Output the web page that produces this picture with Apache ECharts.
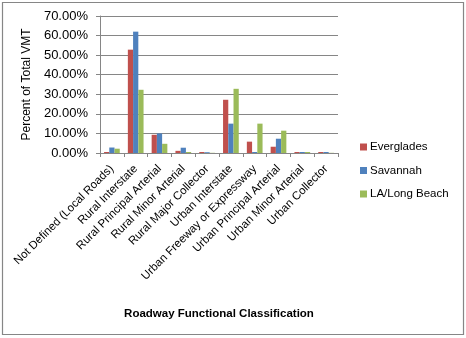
<!DOCTYPE html>
<html><head><meta charset="utf-8">
<script src="https://cdn.jsdelivr.net/npm/echarts@6/dist/echarts.min.js"></script>
<style>html,body{margin:0;padding:0;background:#fff}#c{width:466px;height:338px}</style>
</head><body><div id="c"></div>
<script>
const categories = ["Not Defined (Local Roads)","Rural Interstate","Rural Principal Arterial","Rural Minor Arterial","Rural Major Collector","Urban Interstate","Urban Freeway or Expressway","Urban Principal Arterial","Urban Minor Arterial","Urban Collector"];
const everglades = [0.5, 52.8, 9.3, 1.1, 0.5, 27.2, 5.8, 3.2, 0.5, 0.5];
const savannah   = [2.8, 62.0, 10.0, 2.7, 0.4, 15.0, 0.5, 7.3, 0.5, 0.5];
const laLongBeach= [2.2, 32.3, 4.7, 0.5, 0.1, 32.8, 15.0, 11.4, 0.5, 0.1];
const yTicks = [0,10,20,30,40,50,60,70];
const FONT = "'Liberation Sans', Arial, sans-serif";
const chart = echarts.init(document.getElementById('c'), null, {renderer:'canvas'});
const gray = '#868686';
function s(name, data, color){
  return {name, type:'bar', data, barGap:'0%', barCategoryGap:'34%', itemStyle:{color}, animation:false};
}
chart.setOption({
  animation:false,
  textStyle:{fontFamily:FONT},
  graphic:[{type:'rect', shape:{x:2.5,y:2.5,width:461,height:332}, style:{fill:'none', stroke:gray, lineWidth:1.2}, silent:true}],
  grid:{left:100, right:128, top:16, bottom:185, containLabel:false},
  legend:{orient:'vertical', left:355, top:136, itemWidth:7, itemHeight:7, itemGap:11.5,
    icon:'rect', textStyle:{fontFamily:FONT, fontSize:11.5, color:'#000', padding:[0,0,0,-2]},
    data:['Everglades','Savannah','LA/Long Beach']},
  xAxis:{type:'category', data:categories,
    name:'Roadway Functional Classification', nameLocation:'middle', nameGap:155,
    nameTextStyle:{fontFamily:FONT, fontSize:11.5, fontWeight:'bold', color:'#000'},
    axisLine:{lineStyle:{color:gray, width:1}},
    axisTick:{show:true, alignWithLabel:false, length:4, lineStyle:{color:gray}},
    axisLabel:{rotate:45, interval:0, margin:14, fontFamily:FONT, fontSize:11.5, color:'#000'}},
  yAxis:{type:'value', min:0, max:70, interval:10,
    name:'Percent of Total VMT', nameLocation:'middle', nameGap:61,
    nameTextStyle:{fontFamily:FONT, fontSize:12, color:'#000'},
    axisLine:{show:true, lineStyle:{color:gray}},
    axisTick:{show:true, length:4, lineStyle:{color:gray}},
    splitLine:{lineStyle:{color:gray, width:1}},
    axisLabel:{margin:12, fontFamily:FONT, fontSize:13, color:'#000', formatter:v=>v.toFixed(2)+'%'}},
  series:[s('Everglades', everglades, '#C0504D'), s('Savannah', savannah, '#4F81BD'), s('LA/Long Beach', laLongBeach, '#9BBB59')]
});
</script></body></html>
